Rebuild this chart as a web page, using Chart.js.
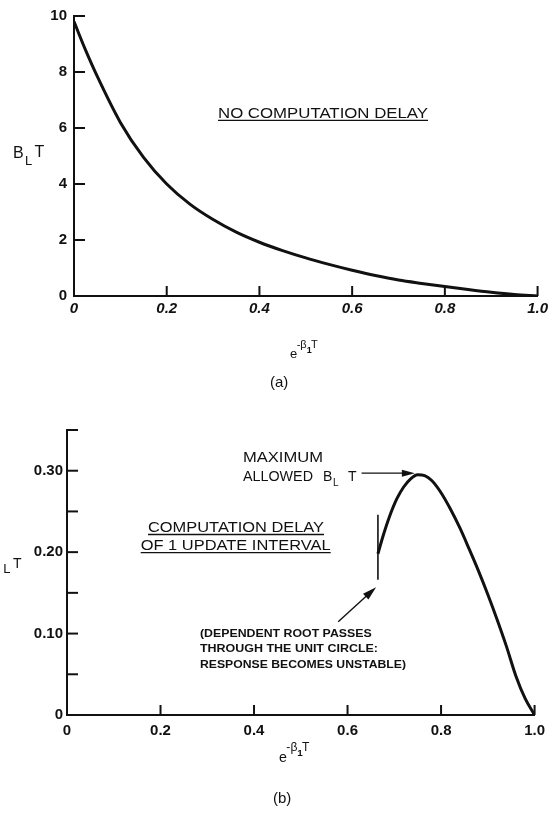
<!DOCTYPE html>
<html><head><meta charset="utf-8">
<script src="https://cdn.jsdelivr.net/npm/chart.js@4/dist/chart.umd.min.js"></script>
<style>
html,body{margin:0;padding:0;background:#fff;width:552px;height:821px;overflow:hidden;}
#wa{position:absolute;left:0;top:0;width:552px;height:400px;}
#wb{position:absolute;left:0;top:400px;width:552px;height:421px;}
canvas{display:block;}
</style></head><body>
<div id="wa"><canvas id="ca" width="552" height="400"></canvas></div>
<div id="wb"><canvas id="cb" width="552" height="421"></canvas></div>
<script>
// ---------- Panel (a): no computation delay ----------
const xA = [0, 0.025, 0.05, 0.1, 0.15, 0.2, 0.25, 0.3, 0.35, 0.4, 0.45, 0.5, 0.55, 0.6, 0.65, 0.7, 0.75, 0.8, 0.85, 0.9, 0.95, 1.0];
const yA = [9.8, 8.78, 7.85, 6.2, 4.95, 4.0, 3.28, 2.73, 2.28, 1.92, 1.62, 1.36, 1.13, 0.92, 0.73, 0.57, 0.45, 0.34, 0.23, 0.13, 0.05, 0];
const xTicksA = [0, 0.2, 0.4, 0.6, 0.8, 1.0];
const xTickLabelsA = ['0', '0.2', '0.4', '0.6', '0.8', '1.0'];
const yTicksA = [0, 2, 4, 6, 8, 10];
const yTickLabelsA = ['0', '2', '4', '6', '8', '10'];

// ---------- Panel (b): computation delay of 1 update interval ----------
const xB = [0.665, 0.675, 0.69, 0.705, 0.72, 0.735, 0.75, 0.765, 0.78, 0.8, 0.82, 0.84, 0.86, 0.88, 0.9, 0.92, 0.94, 0.96, 0.98, 1.0];
const yB = [0.198, 0.218, 0.244, 0.265, 0.280, 0.290, 0.295, 0.294, 0.288, 0.273, 0.253, 0.230, 0.204, 0.177, 0.148, 0.117, 0.084, 0.048, 0.020, 0];
const markerXB = [0.665, 0.665];
const markerYB = [0.246, 0.166];
const xTicksB = [0, 0.2, 0.4, 0.6, 0.8, 1.0];
const xTickLabelsB = ['0', '0.2', '0.4', '0.6', '0.8', '1.0'];
const yTicksB = [0, 0.05, 0.10, 0.15, 0.20, 0.25, 0.30, 0.35];
const yTickLabelsB = ['0', '', '0.10', '', '0.20', '', '0.30', ''];
// arrow anchors in data units [x0, y0, x1, y1]
const arrowMaxB = [0.630, 0.297, 0.744, 0.297];
const arrowRootB = [0.580, 0.1146, 0.661, 0.157];

const FONT = "'Liberation Sans', Arial, Helvetica, sans-serif";
const INK = '#111';

function pts(xs, ys) { return xs.map((x, i) => ({x: x, y: ys[i]})); }

function txt(ctx, s, x, y, size, opts) {
  opts = opts || {};
  ctx.save();
  ctx.font = (opts.style || 'normal') + ' ' + (opts.weight || 'normal') + ' ' + size + 'px ' + FONT;
  ctx.fillStyle = INK;
  ctx.textBaseline = 'alphabetic';
  ctx.textAlign = 'left';
  const m = ctx.measureText(s).width;
  ctx.translate(x, y);
  if (opts.w) ctx.scale(opts.w / m, 1);
  ctx.fillText(s, 0, 0);
  ctx.restore();
  if (opts.underline) {
    ctx.save();
    ctx.strokeStyle = INK; ctx.lineWidth = 1.3;
    ctx.beginPath(); ctx.moveTo(x, y + opts.underline); ctx.lineTo(x + (opts.w || m), y + opts.underline); ctx.stroke();
    ctx.restore();
  }
}

function arrow(ctx, x0, y0, x1, y1, len, hw) {
  const a = Math.atan2(y1 - y0, x1 - x0);
  ctx.save();
  ctx.strokeStyle = INK; ctx.fillStyle = INK; ctx.lineWidth = 1.4;
  ctx.beginPath(); ctx.moveTo(x0, y0);
  ctx.lineTo(x1 - Math.cos(a) * len * 0.8, y1 - Math.sin(a) * len * 0.8); ctx.stroke();
  ctx.beginPath();
  ctx.moveTo(x1, y1);
  ctx.lineTo(x1 - Math.cos(a) * len - Math.sin(a) * hw, y1 - Math.sin(a) * len + Math.cos(a) * hw);
  ctx.lineTo(x1 - Math.cos(a) * len + Math.sin(a) * hw, y1 - Math.sin(a) * len - Math.cos(a) * hw);
  ctx.closePath(); ctx.fill();
  ctx.restore();
}

function xTitle(ctx, x, y, s) {
  // e^{-beta_1 T}
  txt(ctx, 'e', x, y, 13 * s);
  txt(ctx, '-\u03B2', x + 6.7 * s, y - 10 * s, 11 * s);
  txt(ctx, '1', x + 16.7 * s, y - 5.6 * s, 9 * s, {weight: 'bold'});
  txt(ctx, 'T', x + 21 * s, y - 10 * s, 11 * s);
}

const tickMarks = {
  id: 'tickMarks',
  afterDraw(chart) {
    const ctx = chart.ctx, xs = chart.scales.x, ys = chart.scales.y, ca = chart.chartArea;
    ctx.save();
    ctx.strokeStyle = INK; ctx.lineWidth = 2;
    xs.ticks.forEach(t => {
      if (t.value === 0) return;
      const px = xs.getPixelForValue(t.value);
      ctx.beginPath(); ctx.moveTo(px, ca.bottom); ctx.lineTo(px, ca.bottom - 10); ctx.stroke();
    });
    ys.ticks.forEach(t => {
      if (t.value === 0) return;
      const py = ys.getPixelForValue(t.value);
      ctx.beginPath(); ctx.moveTo(ca.left, py); ctx.lineTo(ca.left + 11, py); ctx.stroke();
    });
    ctx.restore();
  }
};

const decoA = {
  id: 'decoA',
  afterDraw(chart) {
    const ctx = chart.ctx;
    txt(ctx, 'NO COMPUTATION DELAY', 218, 117.7, 14, {w: 210, underline: 2.6});
    // y title B_L T
    txt(ctx, 'B', 13, 158, 16);
    txt(ctx, 'L', 25, 165, 13);
    txt(ctx, 'T', 34.5, 157, 16);
    xTitle(ctx, 290, 358.3, 1);
    txt(ctx, '(a)', 270, 387, 15);
  }
};

const decoB = {
  id: 'decoB',
  afterDraw(chart) {
    const ctx = chart.ctx, xs = chart.scales.x, ys = chart.scales.y;
    txt(ctx, 'MAXIMUM', 243, 61.7, 14, {w: 80});
    txt(ctx, 'ALLOWED', 243, 80.7, 14, {w: 70});
    txt(ctx, 'B', 323, 80.7, 14);
    txt(ctx, 'L', 333, 85.5, 10);
    txt(ctx, 'T', 348, 80.7, 14);
    txt(ctx, 'COMPUTATION DELAY', 148, 131.7, 14, {w: 176, underline: 2.8});
    txt(ctx, 'OF 1 UPDATE INTERVAL', 140.7, 150, 14, {w: 190, underline: 2.6});
    txt(ctx, '(DEPENDENT ROOT PASSES', 200, 236.7, 10.5, {weight: 'bold', w: 171.7});
    txt(ctx, 'THROUGH THE UNIT CIRCLE:', 200, 252.3, 10.5, {weight: 'bold', w: 178});
    txt(ctx, 'RESPONSE BECOMES UNSTABLE)', 200, 268.3, 10.5, {weight: 'bold', w: 206});
    arrow(ctx, xs.getPixelForValue(arrowMaxB[0]), ys.getPixelForValue(arrowMaxB[1]),
               xs.getPixelForValue(arrowMaxB[2]), ys.getPixelForValue(arrowMaxB[3]), 13, 3.5);
    arrow(ctx, xs.getPixelForValue(arrowRootB[0]), ys.getPixelForValue(arrowRootB[1]),
               xs.getPixelForValue(arrowRootB[2]), ys.getPixelForValue(arrowRootB[3]), 14, 4);
    // y title (B clipped at the left edge in the original)
    txt(ctx, 'B', -11.5, 166, 16);
    txt(ctx, 'L', 3.3, 173, 13);
    txt(ctx, 'T', 13, 168, 14);
    xTitle(ctx, 279, 362, 1.1);
    txt(ctx, '(b)', 273, 403, 15);
  }
};

function makeScales(xT, xL, yT, yL, xItalic, yWidth, xHeight, xPad, yPad, yMax) {
  return {
    x: {
      type: 'linear', min: 0, max: 1,
      afterBuildTicks: s => { s.ticks = xT.map(v => ({value: v})); },
      afterFit: s => { s.height = xHeight; },
      grid: {display: false, drawTicks: false},
      border: {display: true, color: INK, width: 2},
      ticks: {
        color: INK, padding: xPad, maxRotation: 0, autoSkip: false,
        font: {family: FONT, size: 15, weight: 'bold', style: xItalic ? 'italic' : 'normal'},
        callback: (v, i) => xL[i]
      }
    },
    y: {
      type: 'linear', min: 0, max: yMax,
      afterBuildTicks: s => { s.ticks = yT.map(v => ({value: v})); },
      afterFit: s => { s.width = yWidth; },
      grid: {display: false, drawTicks: false},
      border: {display: true, color: INK, width: 2},
      ticks: {
        color: INK, padding: yPad, autoSkip: false,
        font: {family: FONT, size: 15, weight: 'bold'},
        callback: (v, i) => yL[i]
      }
    }
  };
}

new Chart(document.getElementById('ca'), {
  type: 'line',
  data: {datasets: [{
    data: pts(xA, yA), borderColor: INK, borderWidth: 3, pointRadius: 0,
    cubicInterpolationMode: 'monotone', fill: false
  }]},
  options: {
    responsive: false, animation: false, devicePixelRatio: 1,
    layout: {padding: {top: 10, right: 11, left: 0, bottom: 0}},
    plugins: {legend: {display: false}, tooltip: {enabled: false}},
    scales: makeScales(xTicksA, xTickLabelsA, yTicksA, yTickLabelsA, true, 74, 104, 4, 7, 10)
  },
  plugins: [tickMarks, decoA]
});

new Chart(document.getElementById('cb'), {
  type: 'line',
  data: {datasets: [
    {data: pts(xB, yB), borderColor: INK, borderWidth: 3, pointRadius: 0,
     cubicInterpolationMode: 'monotone', fill: false},
    {data: pts(markerXB, markerYB), borderColor: INK, borderWidth: 1.6, pointRadius: 0, fill: false}
  ]},
  options: {
    responsive: false, animation: false, devicePixelRatio: 1,
    layout: {padding: {top: 30, right: 17, left: 0, bottom: 0}},
    plugins: {legend: {display: false}, tooltip: {enabled: false}},
    scales: makeScales(xTicksB, xTickLabelsB, yTicksB, yTickLabelsB, false, 67, 106, 7, 4, 0.35)
  },
  plugins: [tickMarks, decoB]
});
</script>
</body></html>
